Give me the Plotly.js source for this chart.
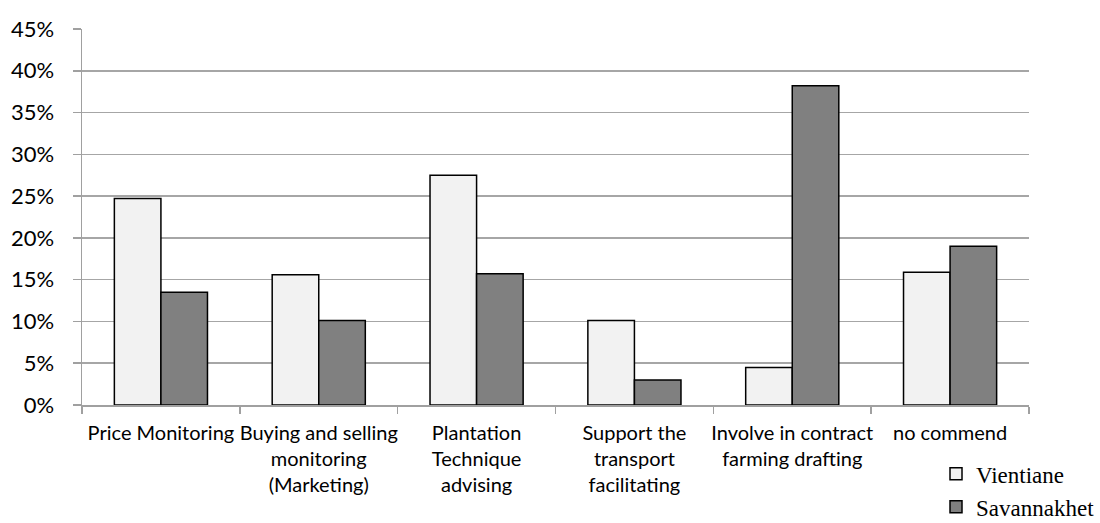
<!DOCTYPE html>
<html>
<head>
<meta charset="utf-8">
<script src="https://cdn.plot.ly/plotly-3.0.1.min.js"></script>
<style>
  html, body { margin: 0; padding: 0; background: #ffffff; }
  #chart { width: 1100px; height: 523px; }
</style>
</head>
<body>
<div id="chart"></div>
<script>
// Support activities requested, share of respondents by province
const categories = [
  "Price Monitoring",
  "Buying and selling<br>monitoring<br>(Marketing)",
  "Plantation<br>Technique<br>advising",
  "Support the<br>transport<br>facilitating",
  "Involve in contract<br>farming drafting",
  "no commend"
];
const vientiane = [0.247, 0.156, 0.275, 0.101, 0.045, 0.159];
const savannakhet = [0.135, 0.101, 0.157, 0.030, 0.382, 0.190];
const yTicks = [0, 0.05, 0.10, 0.15, 0.20, 0.25, 0.30, 0.35, 0.40, 0.45];
const yTickLabels = ["0%", "5%", "10%", "15%", "20%", "25%", "30%", "35%", "40%", "45%"];

const sansFont = "Lato, 'Open Sans', sans-serif";
const serifFont = "'Liberation Serif', 'DejaVu Serif', serif";

const traces = [
  {
    type: "bar",
    name: "Vientiane",
    x: categories,
    y: vientiane,
    legendgroup: "vte",
    marker: { color: "#f2f2f2", line: { color: "#000000", width: 1.5 } },
    hoverinfo: "x+y"
  },
  {
    type: "bar",
    name: "Savannakhet",
    x: categories,
    y: savannakhet,
    legendgroup: "svk",
    marker: { color: "#808080", line: { color: "#000000", width: 1.5 } },
    hoverinfo: "x+y"
  }
];

const layout = {
  width: 1100,
  height: 523,
  margin: { l: 82, r: 71, t: 29, b: 118, autoexpand: false },
  paper_bgcolor: "#ffffff",
  plot_bgcolor: "#ffffff",
  barmode: "group",
  bargap: 0.41,
  bargroupgap: 0,
  showlegend: true,
  legend: {
    x: 0.9018,
    xanchor: "left",
    y: -0.126,
    yanchor: "top",
    orientation: "v",
    traceorder: "normal",
    tracegroupgap: 4,
    font: { family: serifFont, size: 23, color: "#000000" },
    bgcolor: "rgba(0,0,0,0)"
  },
  xaxis: {
    type: "category",
    showgrid: false,
    showline: true,
    linecolor: "#a0a0a0",
    linewidth: 1.5,
    ticks: "outside",
    tickson: "boundaries",
    ticklen: 7,
    tickcolor: "#a0a0a0",
    tickwidth: 1.5,
    ticklabelstandoff: 9,
    tickfont: { family: sansFont, size: 20, color: "#000000" },
    tickangle: 0,
    automargin: false
  },
  yaxis: {
    range: [0, 0.45],
    tickvals: yTicks,
    ticktext: yTickLabels,
    showgrid: true,
    gridcolor: "#a6a6a6",
    gridwidth: 1.5,
    zeroline: false,
    showline: true,
    linecolor: "#a0a0a0",
    linewidth: 1.5,
    ticks: "outside",
    ticklen: 8,
    tickcolor: "#a0a0a0",
    tickwidth: 1.5,
    ticklabelstandoff: 14,
    tickfont: { family: sansFont, size: 22, color: "#000000" },
    automargin: false
  }
};

Plotly.newPlot("chart", traces, layout, { displayModeBar: false, staticPlot: true });
</script>
</body>
</html>
